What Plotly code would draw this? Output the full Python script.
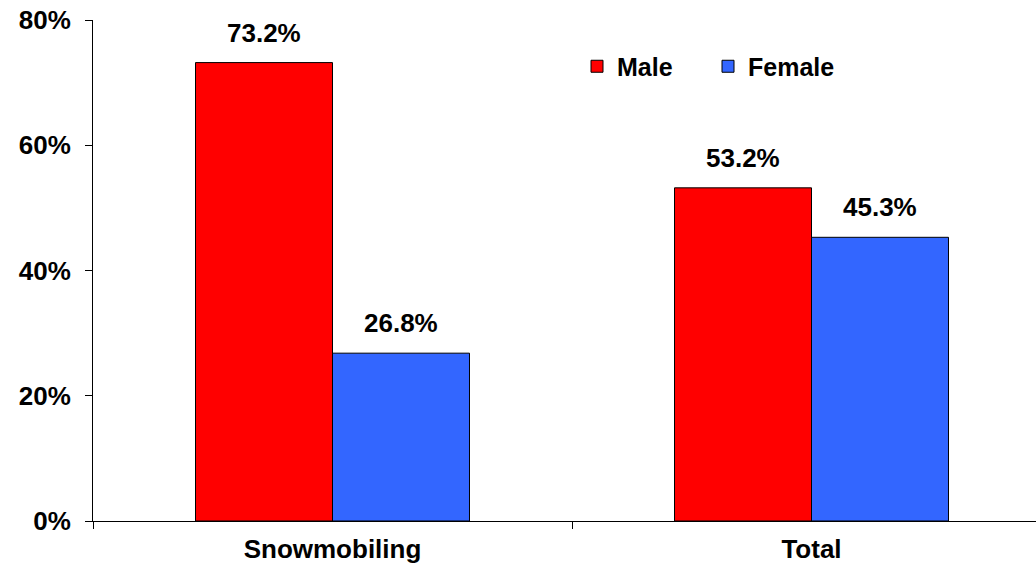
import plotly.graph_objects as go

categories = ["Snowmobiling", "Total"]
male = [73.2, 53.2]
female = [26.8, 45.3]
series_names = ["Male", "Female"]
colors = ["#FF0000", "#3366FF"]
y_ticks = [0, 20, 40, 60, 80]
y_tick_labels = ["0%", "20%", "40%", "60%", "80%"]

FONT = "Liberation Sans, Arial, sans-serif"
bargap = 0.428
bar_w = (1 - bargap) / 2

fig = go.Figure()
for name, vals, col in zip(series_names, [male, female], colors):
    fig.add_trace(go.Bar(
        name=name, x=categories, y=vals,
        marker=dict(color=col, line=dict(color="black", width=1)),
        hoverinfo="skip",
    ))

annotations = []
for k, vals in enumerate([male, female]):
    off = (k - 0.5) * bar_w
    for i, v in enumerate(vals):
        annotations.append(dict(
            x=i + off, y=v, xref="x", yref="y", text=f"<b>{v:.1f}%</b>",
            showarrow=False, yanchor="middle", yshift=30,
            font=dict(family=FONT, size=26, color="black"),
        ))

W, H = 1036, 567
ML, MT, PH = 93, 20, 501
PW = W - ML
cat_px = 479
x_max = -0.5 + PW / cat_px

fig.update_layout(
    width=W, height=H,
    margin=dict(l=ML, r=0, t=MT, b=H - MT - PH, autoexpand=False),
    paper_bgcolor="white", plot_bgcolor="white",
    barmode="group", bargap=bargap, bargroupgap=0,
    annotations=annotations,
    showlegend=True,
    legend=dict(
        orientation="h", x=(577 - 93) / PW, y=(521 - 66.5) / PH,
        xanchor="left", yanchor="middle",
        font=dict(family=FONT, size=25, color="black", weight="bold"),
        entrywidth=86, entrywidthmode="pixels",
        bgcolor="rgba(0,0,0,0)", itemclick=False,
    ),
    xaxis=dict(
        type="category", range=[-0.5, x_max], automargin=False,
        showline=True, linecolor="black", linewidth=1,
        ticks="outside", ticklen=7, tickcolor="black", tickson="boundaries",
        ticklabelstandoff=5,
        tickfont=dict(family=FONT, size=26, color="black", weight="bold"),
        showgrid=False, zeroline=False, fixedrange=True,
    ),
    yaxis=dict(
        range=[0, 80], tickvals=y_ticks, ticktext=y_tick_labels, automargin=False,
        showline=True, linecolor="black", linewidth=1,
        ticks="outside", ticklen=7, tickcolor="black",
        ticklabelstandoff=9, ticklabeloverflow="allow",
        tickfont=dict(family=FONT, size=26, color="black", weight="bold"),
        showgrid=False, zeroline=False, fixedrange=True,
    ),
)

fig.write_html(
    "out.html",
    config={"displayModeBar": False},
    post_script="document.body.style.margin='0';document.body.style.overflow='hidden';",
)
